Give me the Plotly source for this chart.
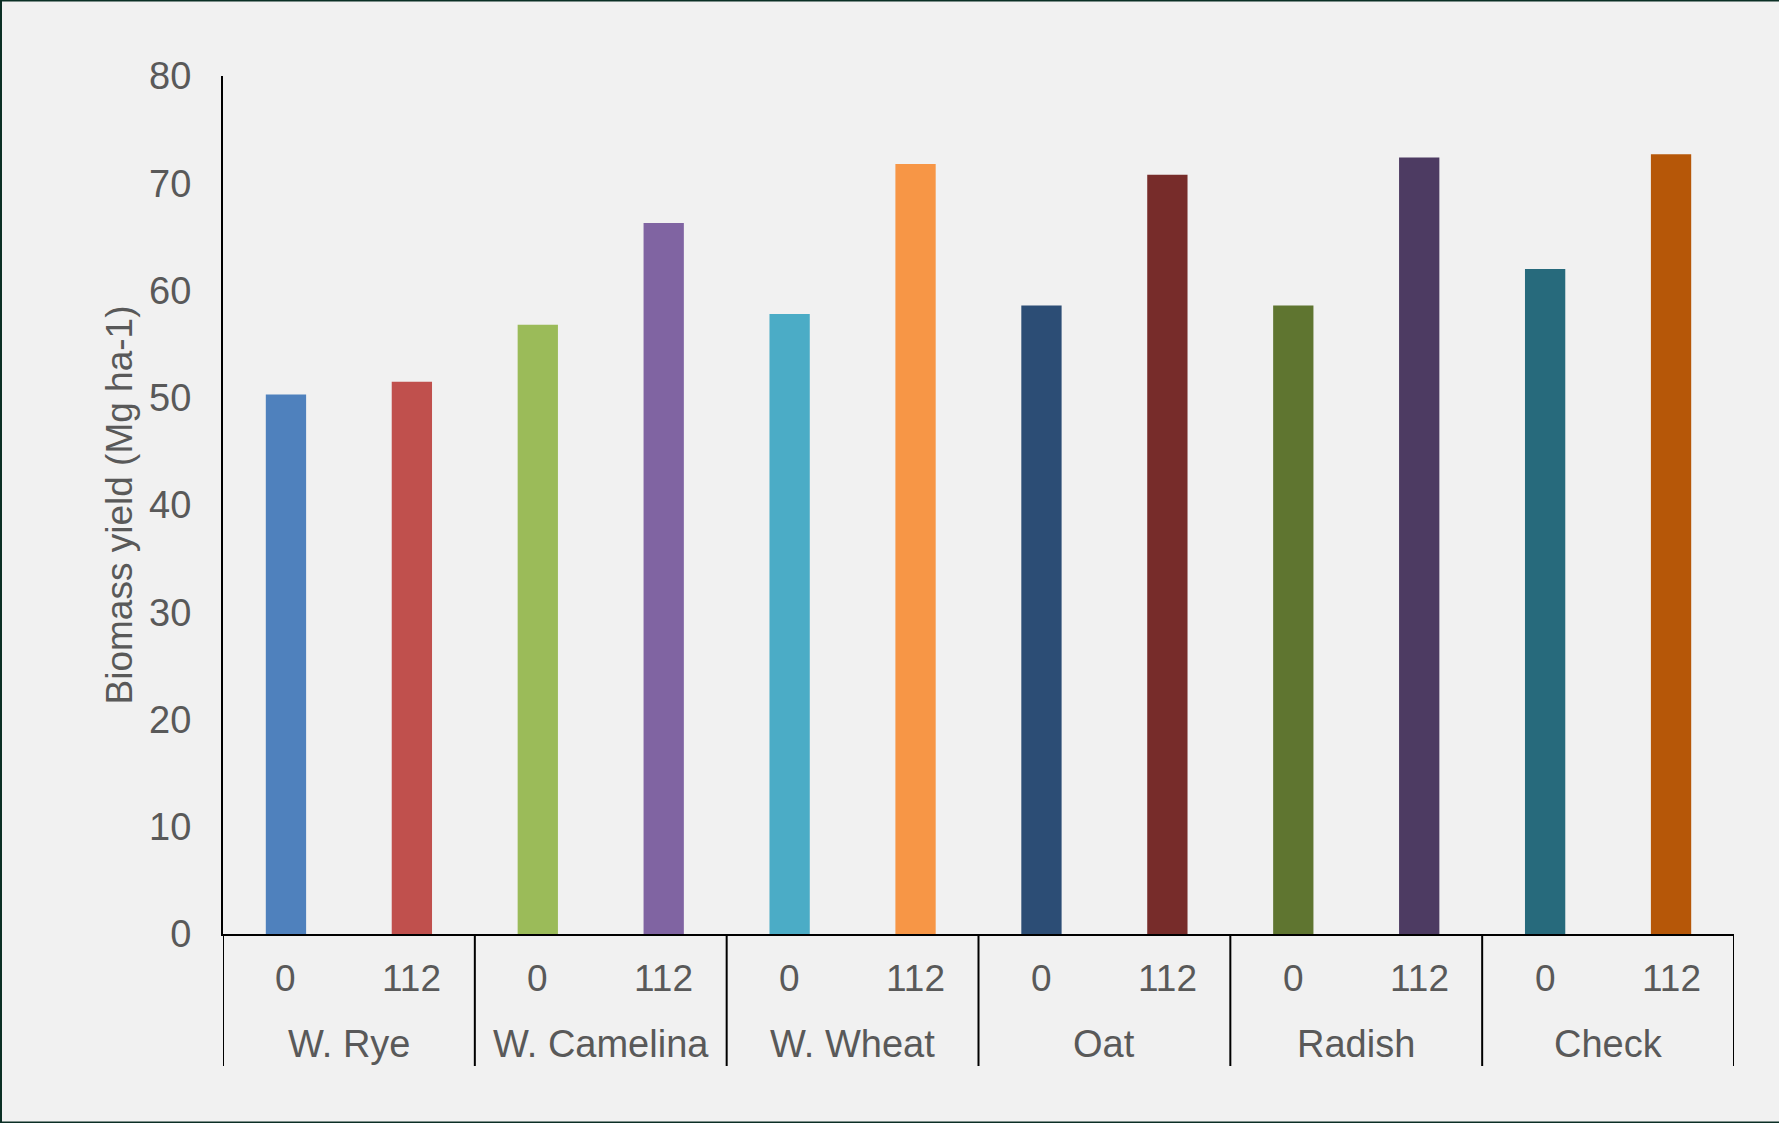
import plotly.graph_objects as go

crops = ["W. Rye", "W. Camelina", "W. Wheat", "Oat", "Radish", "Check"]
nitrogen_rates = ["0", "112"]
biomass = [50.3, 51.5, 56.8, 66.3, 57.8, 71.8, 58.6, 70.8, 58.6, 72.4, 62.0, 72.7]
colors = ["#4F81BD", "#C0504D", "#9BBB59", "#8064A2", "#4BACC6", "#F79646",
          "#2C4D75", "#772C2A", "#5F7530", "#4D3B62", "#276A7C", "#B65708"]
y_ticks = [0, 10, 20, 30, 40, 50, 60, 70, 80]

n_inner = len(nitrogen_rates)
positions = list(range(len(crops) * n_inner))

fig = go.Figure(go.Bar(x=positions, y=biomass, marker=dict(color=colors, line=dict(width=0))))

W, H = 1779, 1123
ml, mr, mt, mb = 223, 45, 76, 189
pw, ph = W - ml - mr, H - mt - mb

def px(x):
    return (x - ml) / pw

def py(y):
    return (H - mb - y) / ph

text_color = "#595959"
fnt = "Liberation Sans, Arial, sans-serif"

# inner labels (nitrogen rate)
for i, p in enumerate(positions):
    fig.add_annotation(x=p, xref="x", y=0, yref="paper", yshift=-44, yanchor="middle",
                       text=nitrogen_rates[i % n_inner], showarrow=False,
                       font=dict(size=37, color=text_color, family=fnt))
# outer labels (crop)
for j, c in enumerate(crops):
    center = j * n_inner + (n_inner - 1) / 2
    fig.add_annotation(x=center, xref="x", y=0, yref="paper", yshift=-110, yanchor="middle",
                       text=c, showarrow=False,
                       font=dict(size=38, color=text_color, family=fnt))
# dividers between crop groups
div_len = 132 / ph
for j in range(len(crops) + 1):
    xb = j * n_inner - 0.5
    fig.add_shape(type="line", xref="x", yref="paper", x0=xb, x1=xb, y0=0, y1=-div_len,
                  line=dict(color="#000000", width=2))

border = "#0B2F25"
fig.add_shape(type="line", xref="paper", yref="paper", x0=px(1), x1=px(1), y0=py(0), y1=py(H), line=dict(color=border, width=2))
fig.add_shape(type="line", xref="paper", yref="paper", x0=px(0), x1=px(W), y0=py(0.5), y1=py(0.5), line=dict(color=border, width=2))
fig.add_shape(type="line", xref="paper", yref="paper", x0=px(0), x1=px(W), y0=py(H - 0.5), y1=py(H - 0.5), line=dict(color=border, width=2))

fig.update_layout(
    width=W, height=H,
    margin=dict(l=ml, r=mr, t=mt, b=mb),
    paper_bgcolor="#F1F1F1", plot_bgcolor="#F1F1F1",
    bargap=0.68,
    showlegend=False,
    font=dict(family=fnt, color=text_color),
)
fig.update_xaxes(
    range=[-0.5, len(positions) - 0.5],
    showline=True, linecolor="#000000", linewidth=2,
    showgrid=False, zeroline=False, ticks="", showticklabels=False,
)
fig.update_yaxes(
    range=[0, 80], tickvals=y_ticks,
    showline=True, linecolor="#000000", linewidth=2,
    showgrid=False, zeroline=False, ticks="",
    ticklabelstandoff=22,
    tickfont=dict(size=38, color=text_color),
    title=dict(text="Biomass yield (Mg ha-1)", font=dict(size=37, color=text_color), standoff=5),
)

fig.write_html("out.html")
